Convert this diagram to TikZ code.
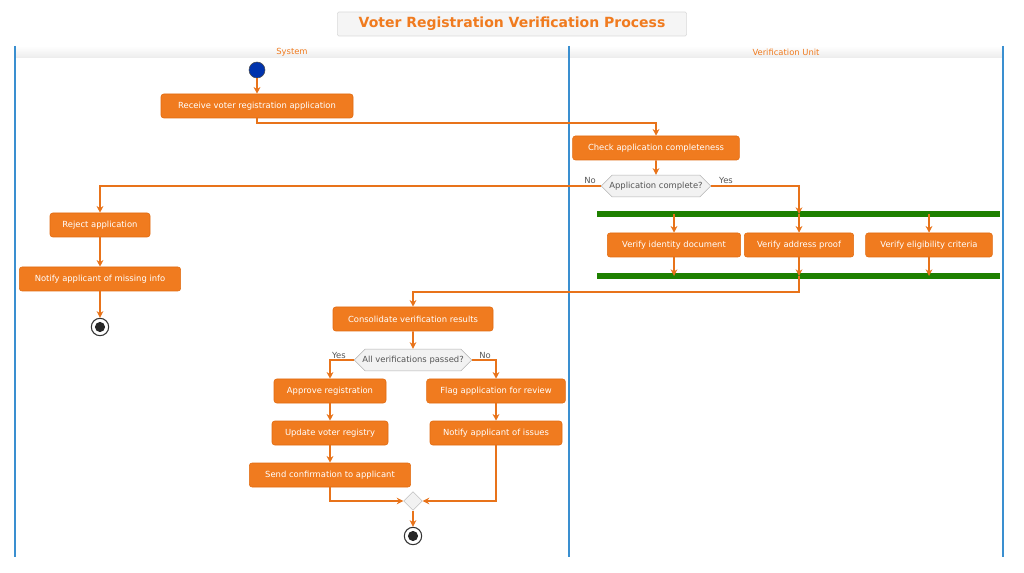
\documentclass[tikz,border=0pt]{standalone}
\usepackage{fontspec}
\setmainfont{DejaVu Sans}
\usetikzlibrary{arrows.meta,shapes.geometric,shapes.misc}
\definecolor{orf}{HTML}{F07B1F}
\definecolor{ord}{HTML}{E06A10}
\definecolor{arr}{HTML}{E8731A}
\definecolor{lane}{HTML}{3A8FD0}
\definecolor{gtxt}{HTML}{555555}
\definecolor{frk}{HTML}{1E8000}
\tikzset{
 box/.style={draw=ord,fill=orf,rounded corners=2pt,text=white,font=\fontsize{6.3}{7}\selectfont,minimum height=18pt,inner sep=2pt},
 dec/.style={draw=gray!60,fill=gray!10,chamfered rectangle,chamfered rectangle xsep=6pt,chamfered rectangle angle=45,text=gtxt,font=\fontsize{6.3}{7}\selectfont,minimum height=11pt,inner sep=1.5pt},
 lbl/.style={text=gtxt,font=\fontsize{6.3}{7}\selectfont},
 ar/.style={draw=arr,line width=1.3pt,-{Stealth[length=5pt,width=5pt]}},
 ln/.style={draw=arr,line width=1.3pt},
 bar/.style={draw=frk,line width=4pt},
 endc/.style={circle,draw=black!80,line width=0.8pt,minimum size=13pt,inner sep=0pt,path picture={\fill[black!85] (path picture bounding box.center) circle (3.8pt);}},
}
\begin{document}
\begin{tikzpicture}[x=0.75pt,y=-0.75pt]
\useasboundingbox (0,0) rectangle (1024,573);
% title
\node[draw=gray!30,fill=gray!8,rounded corners=1pt,text=orf,font=\bfseries\fontsize{10.5}{12}\selectfont,minimum width=262pt,minimum height=18pt] (title) at (512,24) {Voter Registration Verification Process};
% lanes
\shade[top color=white,bottom color=gray!15] (15,46) rectangle (1003,58);
\node[text=orf,font=\fontsize{6.3}{7}\selectfont] (l1) at (292,52) {System};
\node[text=orf,font=\fontsize{6.3}{7}\selectfont] (l2) at (786,52) {Verification Unit};
\foreach \x in {15,569,1003} \draw[lane,line width=1.2pt] (\x,46) -- (\x,557);
% nodes
\node[circle,fill=blue!60!black!80!cyan,draw=black!70,minimum size=12pt,inner sep=0pt] (st) at (257,70) {};
\node[box,minimum width=144pt] (recv) at (257,106) {Receive voter registration application};
\node[box,minimum width=125pt] (check) at (656,148) {Check application completeness};
\node[dec] (d1) at (656,186) {Application complete?};
\node[lbl] (no1) at (590,181) {No};
\node[lbl] (yes1) at (726,181) {Yes};
\node[box,minimum width=75pt] (rej) at (100,225) {Reject application};
\node[box,minimum width=121pt] (nmi) at (100,279) {Notify applicant of missing info};
\node[endc] (e1) at (100,327) {};
\coordinate (f1a) at (597,214); \coordinate (f1b) at (1000,214);
\coordinate (f2a) at (597,276); \coordinate (f2b) at (1000,276);
\draw[bar] (f1a) -- (f1b);
\draw[bar] (f2a) -- (f2b);
\node[box,minimum width=100pt] (vi) at (674,245) {Verify identity document};
\node[box,minimum width=82pt] (va) at (799,245) {Verify address proof};
\node[box,minimum width=95pt] (ve) at (929,245) {Verify eligibility criteria};
\node[box,minimum width=120pt] (cons) at (413,319) {Consolidate verification results};
\node[dec] (d2) at (413,360) {All verifications passed?};
\node[lbl] (yes2) at (339,355) {Yes};
\node[lbl] (no2) at (485,355) {No};
\node[box,minimum width=84pt] (appr) at (330,391) {Approve registration};
\node[box,minimum width=87pt] (upd) at (330,433) {Update voter registry};
\node[box,minimum width=121pt] (send) at (330,475) {Send confirmation to applicant};
\node[box,minimum width=104pt] (flag) at (496,391) {Flag application for review};
\node[box,minimum width=99pt] (nis) at (496,433) {Notify applicant of issues};
\node[diamond,draw=gray!50,fill=gray!10,minimum size=14pt,inner sep=0pt] (m) at (413,501) {};
\node[endc] (e2) at (413,536) {};
% connectors
\draw[ar] (st) -- (recv);
\draw[ar] (recv.south) |- (656,123) -- (check.north);
\draw[ar] (check) -- (d1);
\draw[ar] (d1.west) -| (rej.north);
\draw[ar] (rej) -- (nmi);
\draw[ar] (nmi) -- (e1);
\draw[ar] (d1.east) -| (799,214);
\foreach \n in {vi,va,ve} {
  \draw[ar] (\n.north |- f1a) -- (\n.north);
  \draw[ar] (\n.south) -- (\n.south |- f2a);
}
\draw[ar] (799,276) -- (799,292) -| (cons.north);
\draw[ar] (cons) -- (d2);
\draw[ar] (d2.west) -| (appr.north);
\draw[ar] (d2.east) -| (flag.north);
\draw[ar] (appr) -- (upd);
\draw[ar] (upd) -- (send);
\draw[ar] (flag) -- (nis);
\draw[ar] (send.south) |- (m.west);
\draw[ar] (nis.south) |- (m.east);
\draw[ar] (m) -- (e2);
\end{tikzpicture}
\end{document}
